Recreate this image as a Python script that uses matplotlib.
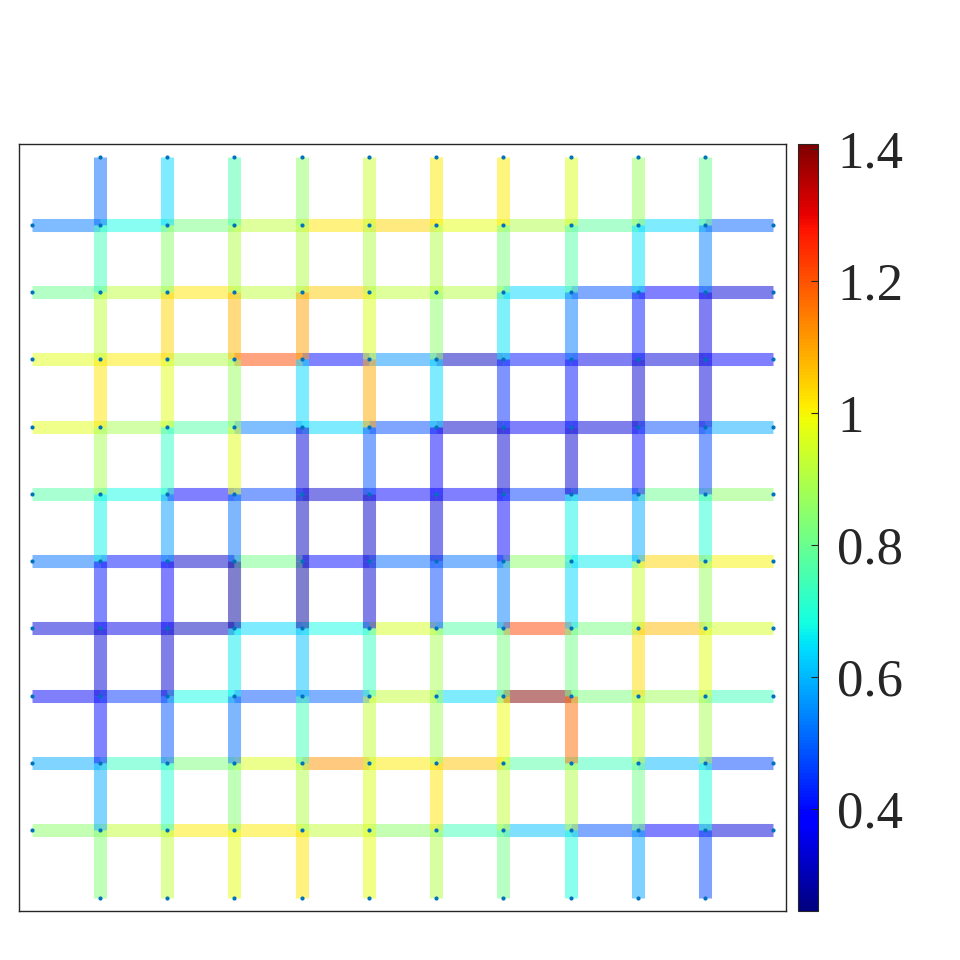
import numpy as np
import matplotlib
matplotlib.use('Agg')
import matplotlib.pyplot as plt
from matplotlib.collections import LineCollection
from matplotlib.colors import Normalize

# Horizontal edge values: rows from top (y=10) to bottom (y=1); segments x=[0,1] ... [10,11]
h_y10 = [0.53, 0.68, 0.82, 0.92, 1.02, 1.04, 0.98, 0.90, 0.78, 0.64, 0.50]
h_y9 = [0.80, 0.92, 1.02, 0.92, 1.05, 0.92, 0.91, 0.64, 0.49, 0.38, 0.34]
h_y8 = [0.97, 1.01, 0.90, 1.21, 0.40, 0.56, 0.31, 0.41, 0.35, 0.34, 0.38]
h_y7 = [0.97, 0.89, 0.77, 0.54, 0.64, 0.48, 0.32, 0.37, 0.34, 0.48, 0.59]
h_y6 = [0.77, 0.68, 0.39, 0.47, 0.33, 0.39, 0.38, 0.46, 0.54, 0.80, 0.85]
h_y5 = [0.52, 0.41, 0.32, 0.81, 0.40, 0.51, 0.52, 0.85, 0.66, 1.04, 1.00]
h_y4 = [0.34, 0.35, 0.31, 0.64, 0.68, 0.95, 0.77, 1.22, 0.82, 1.07, 0.95]
h_y3 = [0.37, 0.45, 0.68, 0.49, 0.50, 0.93, 0.64, 1.41, 0.83, 0.88, 0.74]
h_y2 = [0.59, 0.73, 0.83, 0.96, 1.12, 1.01, 1.06, 0.77, 0.74, 0.60, 0.47]
h_y1 = [0.85, 0.93, 1.01, 1.01, 0.93, 0.85, 0.74, 0.61, 0.49, 0.39, 0.34]

# Vertical edge values: columns x=1..10; segments from top y=[10,11] down to [0,1]
v_x1 = [0.51, 0.74, 0.92, 1.02, 0.89, 0.67, 0.41, 0.34, 0.40, 0.59, 0.84]
v_x2 = [0.64, 0.85, 1.04, 0.97, 0.72, 0.57, 0.39, 0.33, 0.49, 0.70, 0.92]
v_x3 = [0.76, 0.90, 1.08, 0.87, 0.97, 0.52, 0.28, 0.66, 0.52, 0.84, 0.98]
v_x4 = [0.86, 0.90, 1.10, 0.64, 0.34, 0.31, 0.28, 0.61, 0.74, 0.90, 1.02]
v_x5 = [0.94, 0.90, 0.96, 1.09, 0.49, 0.32, 0.33, 0.73, 0.93, 0.96, 0.98]
v_x6 = [1.01, 0.90, 0.85, 0.64, 0.39, 0.34, 0.47, 0.89, 0.88, 1.02, 0.90]
v_x7 = [1.01, 0.83, 0.65, 0.44, 0.33, 0.38, 0.54, 0.82, 0.99, 0.93, 0.81]
v_x8 = [0.96, 0.77, 0.53, 0.41, 0.33, 0.67, 0.64, 0.81, 1.17, 0.90, 0.69]
v_x9 = [0.87, 0.65, 0.42, 0.33, 0.40, 0.59, 0.94, 1.03, 0.93, 0.81, 0.58]
v_x10 = [0.80, 0.54, 0.35, 0.34, 0.47, 0.70, 0.87, 0.97, 0.89, 0.69, 0.47]

cbar_ticks = [0.4, 0.6, 0.8, 1.0, 1.2, 1.4]
cbar_ticklabels = ['0.4', '0.6', '0.8', '1', '1.2', '1.4']
clim = (0.245, 1.408)

h_rows = [h_y10, h_y9, h_y8, h_y7, h_y6, h_y5, h_y4, h_y3, h_y2, h_y1]
h_row_y = [10, 9, 8, 7, 6, 5, 4, 3, 2, 1]
v_cols = [v_x1, v_x2, v_x3, v_x4, v_x5, v_x6, v_x7, v_x8, v_x9, v_x10]
v_col_x = [1, 2, 3, 4, 5, 6, 7, 8, 9, 10]

segs, vals = [], []
for y, row in zip(h_row_y, h_rows):
    for k, v in enumerate(row):
        segs.append([(k, y), (k + 1, y)])
        vals.append(v)
for x, col in zip(v_col_x, v_cols):
    for k, v in enumerate(col):
        ytop = 11 - k
        segs.append([(x, ytop), (x, ytop - 1)])
        vals.append(v)

plt.rcParams['font.family'] = ['Liberation Serif', 'DejaVu Serif']
fig = plt.figure(figsize=(9.6, 9.6), dpi=100)
ax = fig.add_axes([0.0198, 0.051, 0.799, 0.799])
cmap = plt.get_cmap('jet')
norm = Normalize(*clim)
lc = LineCollection(segs, cmap=cmap, norm=norm, linewidths=9.4, alpha=0.5,
                    capstyle='butt')
lc.set_array(np.array(vals))
ax.add_collection(lc)

# nodes
nx, ny = [], []
for x in range(0, 12):
    for y in range(0, 12):
        inner = 1 <= x <= 10 and 1 <= y <= 10
        edge = (x in (0, 11) and 1 <= y <= 10) or (y in (0, 11) and 1 <= x <= 10)
        if inner or edge:
            nx.append(x)
            ny.append(y)
ax.plot(nx, ny, 'o', color='#0072BD', markersize=3, markeredgewidth=0, zorder=3)

ax.set_xlim(-0.2, 11.2)
ax.set_ylim(-0.2, 11.2)
ax.set_xticks([])
ax.set_yticks([])
for s in ax.spines.values():
    s.set_color('#262626')
    s.set_linewidth(1.0)

cax = fig.add_axes([0.831, 0.051, 0.021, 0.799])
sm = plt.cm.ScalarMappable(norm=norm, cmap=cmap)
cb = fig.colorbar(sm, cax=cax)
cb.set_ticks(cbar_ticks)
cb.set_ticklabels(cbar_ticklabels)
cb.outline.set_edgecolor('#262626')
cb.outline.set_linewidth(0.8)
cax.tick_params(direction='in', length=5, width=0.8, color='#262626',
                labelsize=38, labelcolor='#262626', pad=14)

fig.savefig('out.png', dpi=100)
